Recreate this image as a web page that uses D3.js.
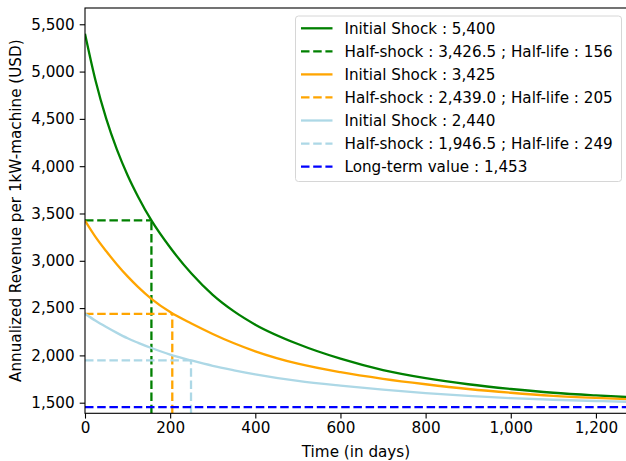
<!DOCTYPE html>
<html>
<head>
<meta charset="utf-8">
<script src="https://cdn.jsdelivr.net/npm/d3@7"></script>
<style>
  body { margin: 0; background: #fff; }
  svg text { font-family: "DejaVu Sans", sans-serif; fill: #000; }
</style>
</head>
<body>
<div id="chart"></div>
<script>
var days = [0, 25, 50, 75, 100, 125, 156, 200, 250, 300, 350, 400, 500, 600, 700, 800, 900, 1000, 1100, 1200, 1273];

// revenue per series (USD)
var shockHigh = [5400, 4900, 4500, 4175, 3905, 3675, 3426.5, 3140, 2865, 2640, 2465, 2325, 2120, 1965, 1845, 1760, 1695, 1645, 1605, 1577, 1560];
var shockMid  = [3425, 3250, 3100, 2962, 2835, 2722, 2598, 2458, 2337, 2227, 2128, 2043, 1912, 1822, 1752, 1695, 1645, 1605, 1573, 1551, 1538];
var shockLow  = [2440, 2366, 2300, 2238, 2181, 2133, 2078, 2008, 1946.5, 1890, 1843, 1800, 1730, 1680, 1638, 1602, 1572, 1548, 1531, 1518, 1510];

var halfShock = [3426.5, 2439.0, 1946.5];
var halfLife  = [156, 205, 249];
var longTerm  = 1453;

var seriesColors = ["green", "orange", "lightblue"];
var legendLabels = [
  "Initial Shock : 5,400",
  "Half-shock : 3,426.5 ; Half-life : 156",
  "Initial Shock : 3,425",
  "Half-shock : 2,439.0 ; Half-life : 205",
  "Initial Shock : 2,440",
  "Half-shock : 1,946.5 ; Half-life : 249",
  "Long-term value : 1,453"
];

var xTicks = [0, 200, 400, 600, 800, 1000, 1200];
var yTicks = [1500, 2000, 2500, 3000, 3500, 4000, 4500, 5000, 5500];

(function() {
  var W = 626, H = 461;
  var mLeft = 85, mTop = 8, mRight = 627, mBottom = 413.3;
  var fs = 15.2, lw = 2.3;
  var dash = "8.5,3.7";

  var svg = d3.select("#chart").append("svg")
    .attr("width", W).attr("height", H);

  var x = d3.scaleLinear().domain([0, 1273]).range([mLeft, mRight]);
  var y = d3.scaleLinear().domain([1388, 5672]).range([mBottom, mTop]);

  svg.append("defs").append("clipPath").attr("id", "clip")
    .append("rect").attr("x", mLeft).attr("y", mTop)
    .attr("width", mRight - mLeft).attr("height", mBottom - mTop);

  var plot = svg.append("g").attr("clip-path", "url(#clip)");

  var line = d3.line()
    .x(function(d) { return x(d[0]); })
    .y(function(d) { return y(d[1]); })
    .curve(d3.curveMonotoneX);

  var allSeries = [shockHigh, shockMid, shockLow];
  allSeries.forEach(function(vals, i) {
    var pts = days.map(function(t, k) { return [t, vals[k]]; });
    plot.append("path")
      .attr("d", line(pts))
      .attr("fill", "none")
      .attr("stroke", seriesColors[i])
      .attr("stroke-width", lw);
    // half-shock markers
    plot.append("path")
      .attr("d", "M" + x(0) + "," + y(halfShock[i]) + "H" + x(halfLife[i]))
      .attr("fill", "none").attr("stroke", seriesColors[i])
      .attr("stroke-width", lw).attr("stroke-dasharray", dash);
    plot.append("path")
      .attr("d", "M" + x(halfLife[i]) + "," + y(1388) + "V" + y(halfShock[i]))
      .attr("fill", "none").attr("stroke", seriesColors[i])
      .attr("stroke-width", lw).attr("stroke-dasharray", dash);
  });

  plot.append("line")
    .attr("x1", x(0)).attr("x2", x(1273))
    .attr("y1", y(longTerm)).attr("y2", y(longTerm))
    .attr("stroke", "blue").attr("stroke-width", lw)
    .attr("stroke-dasharray", dash);

  // axes
  var xAxis = d3.axisBottom(x).tickValues(xTicks).tickSize(5.3).tickPadding(4)
    .tickFormat(d3.format(","));
  var yAxis = d3.axisLeft(y).tickValues(yTicks).tickSize(5.3).tickPadding(5)
    .tickFormat(d3.format(","));

  var gx = svg.append("g").attr("transform", "translate(0," + mBottom + ")").call(xAxis);
  var gy = svg.append("g").attr("transform", "translate(" + mLeft + ",0)").call(yAxis);
  [gx, gy].forEach(function(g) {
    g.select(".domain").remove();
    g.attr("font-family", null).attr("font-size", null);
    g.selectAll("line").attr("stroke", "#000").attr("stroke-width", 1.1);
    g.selectAll("text").style("font-size", fs + "px").attr("fill", "#000");
  });

  // spines
  svg.append("rect")
    .attr("x", mLeft).attr("y", mTop)
    .attr("width", mRight - mLeft).attr("height", mBottom - mTop)
    .attr("fill", "none").attr("stroke", "#000").attr("stroke-width", 1.1);

  svg.append("text")
    .attr("x", (mLeft + mRight) / 2).attr("y", 457)
    .attr("text-anchor", "middle").style("font-size", fs + "px")
    .text("Time (in days)");

  svg.append("text")
    .attr("transform", "translate(21," + ((mTop + mBottom) / 2) + ") rotate(-90)")
    .attr("text-anchor", "middle").style("font-size", fs + "px")
    .text("Annualized Revenue per 1kW-machine (USD)");

  // legend
  var legColors = ["green", "green", "orange", "orange", "lightblue", "lightblue", "blue"];
  var legDashed = [false, true, false, true, false, true, true];
  var leg = svg.append("g");
  leg.append("rect")
    .attr("x", 295.5).attr("y", 16).attr("width", 326).attr("height", 165.5)
    .attr("rx", 3).attr("fill", "#fff").attr("fill-opacity", 0.8)
    .attr("stroke", "#d6d6d6").attr("stroke-width", 1);
  legendLabels.forEach(function(lab, i) {
    var cy = 28.3 + i * 23.05;
    leg.append("line")
      .attr("x1", 301).attr("x2", 332.5).attr("y1", cy).attr("y2", cy)
      .attr("stroke", legColors[i]).attr("stroke-width", lw)
      .attr("stroke-dasharray", legDashed[i] ? dash : null);
    leg.append("text")
      .attr("x", 344.5).attr("y", cy).attr("dy", "0.36em")
      .style("font-size", fs + "px").text(lab);
  });
})();
</script>
</body>
</html>
